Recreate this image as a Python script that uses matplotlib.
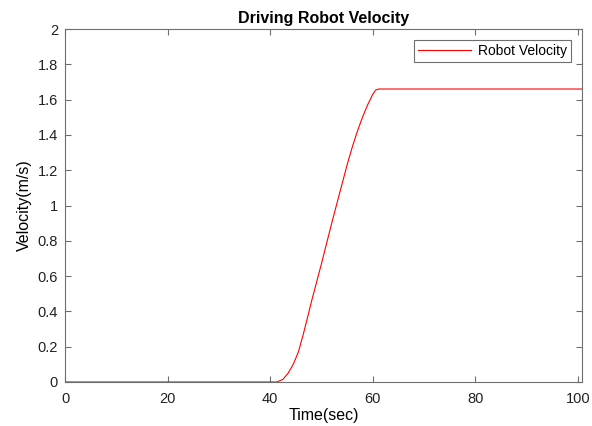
import matplotlib.pyplot as plt

plt.rcParams['font.family'] = ['Liberation Sans', 'DejaVu Sans']

# robot velocity samples (time in sec, velocity in m/s)
time_s = [0, 41.3, 42.5, 43.5, 44.5, 45.5, 46.5, 47.5, 48, 50, 52, 53, 54, 55,
          56, 57, 58, 59, 60, 60.6, 61.2, 100.8]
velocity = [0, 0, 0.015, 0.05, 0.10, 0.17, 0.275, 0.39, 0.45, 0.67, 0.90, 1.01,
            1.12, 1.23, 1.33, 1.42, 1.50, 1.57, 1.63, 1.655, 1.66, 1.66]

x_ticks = [0, 20, 40, 60, 80, 100]
y_ticks = [0, 0.2, 0.4, 0.6, 0.8, 1, 1.2, 1.4, 1.6, 1.8, 2]
y_labels = ['0', '0.2', '0.4', '0.6', '0.8', '1', '1.2', '1.4', '1.6', '1.8', '2']

fig = plt.figure(figsize=(5.92, 4.26), dpi=100)
ax = fig.add_axes([0.1098, 0.1033, 0.8733, 0.8286])

ax.plot(time_s, velocity, color='red', linewidth=0.8, label='Robot Velocity')

ax.set_xlim(0, 100.8)
ax.set_ylim(0, 2)
ax.set_xticks(x_ticks)
ax.set_yticks(y_ticks)
ax.set_yticklabels(y_labels)

edge = '#6e6e6e'
for sp in ax.spines.values():
    sp.set_color(edge)
    sp.set_linewidth(0.8)
ax.tick_params(direction='in', length=4, width=0.8, color=edge,
               labelsize=10.5, labelcolor='#222222', top=True, right=True,
               labeltop=False, labelright=False)
ax.tick_params(axis='x', pad=7)
ax.tick_params(axis='y', pad=5)

ax.set_title('Driving Robot Velocity', fontsize=11.5, fontweight='bold', pad=4)
ax.set_xlabel('Time(sec)', fontsize=11.5, labelpad=2)
ax.set_ylabel('Velocity(m/s)', fontsize=11.5, labelpad=4)

leg = ax.legend(loc='upper right', fontsize=10, fancybox=False,
                framealpha=1, edgecolor=edge, handlelength=3.8,
                borderaxespad=0.8, borderpad=0.3, handletextpad=0.5)
leg.get_frame().set_linewidth(0.8)

fig.savefig('out.png', dpi=100)
